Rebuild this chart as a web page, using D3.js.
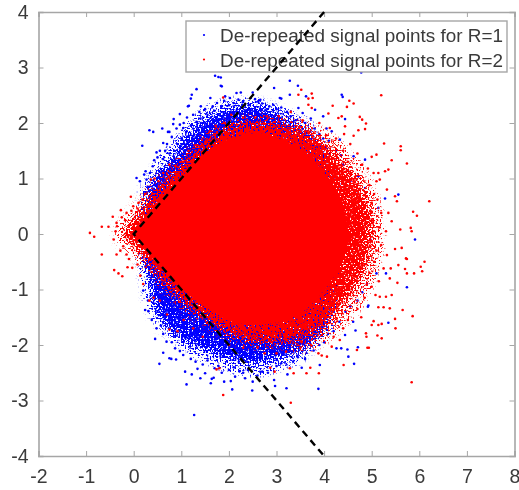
<!DOCTYPE html>
<html><head><meta charset="utf-8">
<script src="https://cdnjs.cloudflare.com/ajax/libs/d3/7.8.5/d3.min.js"></script>
<style>html,body{margin:0;padding:0;background:#fff}svg{display:block}</style></head>
<body><div id="chart"></div>
<script>
const xTicks=[-2,-1,0,1,2,3,4,5,6,7,8];
const yTicks=[-4,-3,-2,-1,0,1,2,3,4];
const legendLabels=["De-repeated signal points for R=1","De-repeated signal points for R=2"];
const refLineX=[4,0,4];
const refLineY=[4,0,-4];
// outlines of the areas where points merge into a solid mass or a sparse fringe
const redCore=[[-0.08,0],[0,0.07],[0.3,0.36],[0.6,0.68],[0.97,1.0],[1.2,1.2],[1.39,1.36],[1.7,1.58],[2.09,1.74],[2.65,1.82],[3,1.74],[3.35,1.6],[3.71,1.38],[4.06,1.04],[4.27,0.76],[4.42,0.45],[4.5,0.1],[4.5,-0.15],[4.38,-0.5],[4.2,-0.78],[4.0,-1.0],[3.7,-1.3],[3.3,-1.52],[2.65,-1.64],[2.09,-1.58],[1.39,-1.25],[0.69,-0.74],[0.35,-0.38],[0.05,-0.08]];
const redHalo=[[-0.3,0],[-0.18,0.17],[0,0.34],[0.25,0.58],[0.55,0.92],[0.9,1.2],[1.25,1.5],[1.6,1.78],[2.1,1.98],[2.7,2.05],[3.3,1.96],[3.8,1.76],[4.25,1.44],[4.68,1.0],[4.92,0.6],[5.02,0.1],[4.97,-0.35],[4.77,-0.8],[4.47,-1.22],[4.0,-1.64],[3.4,-1.9],[2.7,-1.98],[2.1,-1.85],[1.5,-1.55],[0.9,-1.15],[0.45,-0.72],[0.15,-0.42],[-0.1,-0.2]];
const redFringe=[[3.3,2.15],[4,2.0],[4.6,1.6],[5.05,1.1],[5.32,0.5],[5.38,-0.1],[5.25,-0.7],[4.95,-1.3],[4.5,-1.75],[3.9,-2.15],[3.2,-2.2],[3,0]];
const blueBand=[[0.22,0.45],[0.3,0.85],[0.5,1.1],[0.82,1.4],[1.17,1.82],[1.6,2.12],[2.09,2.27],[2.65,2.3],[3,2.18],[3.35,2.0],[3.85,1.68],[4.1,1.3],[4.2,0],[4.1,-1.6],[3.7,-2.02],[3.07,-2.25],[2.58,-2.33],[1.95,-2.24],[1.39,-2.04],[0.85,-1.8],[0.44,-1.42],[0.3,-0.92],[0.22,-0.5]];
const blueFringeTop=[[0.2,0.95],[0.42,1.42],[0.78,1.78],[1.1,2.12],[1.55,2.42],[2.1,2.55],[2.7,2.52],[3.3,2.32],[3.9,2.02],[3,0.5],[1,0.5]];
const blueFringeBottom=[[0.3,-1.15],[0.55,-1.75],[0.95,-2.15],[1.5,-2.42],[2,-2.58],[2.6,-2.66],[3.2,-2.52],[3.8,-2.22],[3,-0.5],[1,-0.5]];
const bluePoints=[[1.71,2.85],[1.78,2.83],[1.83,2.82],[1.83,2.67],[1.85,2.66],[1.32,2.61],[1.22,2.51],[1.2,2.44],[1.16,2.31],[1.14,2.3],[1.61,2.45],[1.41,2.3],[0.97,2.16],[0.84,2.07],[0.83,1.98],[0.33,1.87],[0.41,1.84],[0.6,1.9],[0.72,1.84],[0.75,1.84],[0.18,1.59],[0.06,1.01],[0.13,0.95],[0.27,0.98],[0.48,1.47],[0.43,1.33],[0.34,1.1],[0.25,1.13],[0.22,1.07],[1.92,2.48],[2.02,2.45],[2.16,2.54],[2.25,2.55],[2.5,2.55],[0.97,1.97],[1.04,1.91],[0.9,1.9],[0.8,1.75],[0.7,1.62],[0.62,1.64],[0.55,1.5],[0.66,1.5],[0.5,1.38],[0.4,1.22],[0.3,0.85],[0.28,0.75],[1.05,2.0],[1.12,2.1],[1.25,2.15],[1.32,2.02],[1.38,2.2],[1.5,2.25],[1.55,2.15],[1.66,2.3],[1.75,2.36],[1.85,2.3],[1.9,2.4],[2.0,2.32],[2.1,2.36],[2.2,2.42],[2.3,2.38],[2.42,2.33],[2.55,2.43],[2.62,2.38],[2.7,2.35],[0.92,1.62],[1.0,1.72],[1.1,1.84],[0.85,1.5],[0.75,1.45],[0.62,1.35],[1.2,1.95],[1.4,2.08],[1.7,2.22],
[2.95,2.63],[3.28,2.76],[3.45,2.67],[3.28,2.51],[3.07,2.45],[3.1,2.44],[2.66,2.42],[3.62,2.48],[2.93,2.33],[3.46,2.27],[3.81,2.24],[3.98,2.12],[4.37,2.51],[4.39,2.47],[4.78,2.91],[4.44,2.07],[4.16,1.85],[4.33,1.7],[4.62,1.4],[4.86,1.34],[4.72,1.04],[4.86,0.83],[5.28,0.64],[5.56,0.71],[5.14,0.47],[4.97,-0.1],[5.91,-0.1],[2.85,2.3],[3.0,2.25],[3.1,2.28],[3.22,2.2],[3.3,2.12],[3.4,2.05],[3.55,2.18],[3.6,2.0],[3.72,2.08],[3.8,1.9],[3.9,1.8],[3.98,1.72],[4.05,1.9],[4.1,1.68],[4.25,1.5],[4.35,1.42],[4.4,1.25],[4.5,1.15],[4.55,0.95],[4.65,0.75],
[1.27,-3.26],[0.54,-2.34],[0.62,-2.14],[0.45,-1.89],[0.75,-2.24],[0.79,-2.25],[0.89,-2.26],[1.08,-2.48],[1.11,-2.71],[1.22,-2.53],[1.34,-2.43],[1.4,-2.6],[1.5,-2.51],[1.62,-2.69],[1.64,-2.61],[1.68,-2.59],[1.9,-2.66],[2.04,-2.65],[2.07,-2.8],[2.13,-2.57],[2.49,-2.82],[2.5,-2.66],[2.34,-2.6],[2.23,-2.47],[0.24,-1.37],[0.2,-1.02],[0.31,-1.39],[0.48,-1.7],[0.57,-1.65],[0.69,-1.94],[0.87,-2.06],[0.97,-2.11],[1.04,-2.18],[0.8,-1.95],[0.62,-1.8],[0.38,-1.55],[0.3,-1.2],[1.2,-2.25],[1.3,-2.3],[1.45,-2.35],[1.55,-2.28],[1.7,-2.42],[1.78,-2.38],[1.85,-2.5],[2.0,-2.45],[2.1,-2.4],[2.3,-2.5],[2.4,-2.45],[2.6,-2.55],[2.7,-2.48],[2.82,-2.5],
[3.88,-2.79],[3.21,-2.78],[2.97,-2.74],[2.95,-2.63],[3.23,-2.53],[3.53,-2.41],[3.91,-2.36],[4.63,-2.34],[4.51,-2.21],[4.71,-2.04],[4.49,-2.08],[4.36,-2.06],[4.26,-2.06],[5.35,-1.6],[4.66,-1.74],[4.44,-1.82],[5.74,-0.96],[4.92,-1.31],[4.93,-1.29],[5.3,-0.71],[5.1,-0.71],[4.61,-1.58],[3.0,-2.38],[3.1,-2.33],[3.35,-2.3],[3.45,-2.22],[3.6,-2.25],[3.78,-2.1],[3.9,-2.0],[4.0,-1.95],[4.08,-1.8],[4.2,-1.75],[4.32,-1.58],[4.45,-1.4],[4.55,-1.3],[4.7,-1.2],[4.8,-1.05],[4.9,-0.9]];
const redPoints=[[-0.92,0.02],[-0.83,-0.05],[-0.67,0.13],[-0.53,0.13],[-0.44,0.31],[-0.27,0.43],[-0.06,0.67],[-0.15,0.38],[-0.01,0.5],[0.1,0.56],[-0.35,0.14],[-0.38,0.05],[-0.42,-0.1],[-0.36,0.2],[-0.25,0.3],[-0.18,0.25],[-0.05,0.42],[0.08,0.46],[0.18,0.62],[0.24,0.72],[0.36,0.98],[0.44,1.0],[0.52,0.95],[0.62,1.1],[0.75,1.25],[0.88,1.22],[1.02,1.3],[1.15,1.5],[1.3,1.6],[1.44,1.62],[1.6,1.85],[1.72,1.95],[1.9,2.0],[1.88,2.46],[2.55,2.1],[2.3,2.1],[2.05,2.15],
[-0.67,-0.37],[-0.41,-0.65],[-0.32,-0.71],[-0.24,-0.76],[-0.13,-0.6],[-0.03,-0.61],[-0.36,-0.37],[-0.15,-0.37],[-0.28,-0.3],[-0.22,-0.22],[-0.1,-0.45],[0.08,-0.55],[0.14,-0.75],[0.2,-0.9],[0.33,-1.2],[0.42,-1.15],[0.55,-1.2],[0.7,-1.45],[0.75,-1.72],[0.92,-1.75],[1.05,-1.55],[1.25,-1.7],[1.45,-1.85],[1.88,-2.9],[1.8,-2.42],[1.74,-2.44],[2.0,-2.0],[2.3,-2.05],[2.6,-2.05],[2.75,-2.15],
[5.84,-2.67],[3.3,-3.04],[5.86,-1.48],[5.65,-1.37],[5.49,-1.53],[5.5,-1.7],[5.21,-1.88],[5.12,-1.83],[4.91,-2.05],[4.94,-2.05],[4.69,-2.09],[4.41,-2.36],[3.89,-2.51],[3.71,-2.41],[3.63,-2.51],[3.36,-2.51],[3.28,-2.42],[2.87,-2.41],[2.96,-2.48],[4.06,-2.21],[3.95,-2.19],[3.88,-2.15],[4.16,-2.03],[4.33,-1.91],[4.88,-1.79],[4.89,-1.85],[5.04,-1.57],[5.14,-1.64],[5.21,-1.62],[5.0,-1.64],[4.78,-1.5],[5.38,-1.34],[5.25,-1.32],[5.14,-1.32],[5.42,-1.1],[5.3,-1.13],[5.17,-1.13],[5.08,-1.1],[5.54,-0.88],[5.38,-0.8],[5.25,-0.62],[5.4,-0.62],[5.56,-0.56],[5.7,-0.63],[5.89,-0.71],[5.74,-0.71],[5.74,-0.45],[5.72,-0.44],[6.11,-0.5],[6.03,-0.59],[6.06,-0.67],[5.63,-0.25],[5.49,-0.27],[5.32,-0.38],[5.1,-0.3],[5.2,-0.2],[5.05,-0.5],[4.95,-0.7],[5.0,-0.95],[4.85,-1.15],[4.7,-1.35],[4.5,-1.55],[4.4,-1.7],[4.2,-1.85],[3.72,-2.0],[3.5,-2.05],[3.2,-2.12],[3.0,-2.15],[5.15,-0.85],[4.85,-0.55],[5.05,0.05],[5.15,0.12],[5.3,0.05],[5.0,0.25],
[6.21,0.59],[5.2,2.5],[4.53,2.4],[4.62,2.35],[4.48,2.29],[4.18,2.31],[4.75,2.11],[4.8,2.06],[4.88,1.99],[4.37,2.12],[4.3,2.09],[4.44,1.94],[4.72,1.87],[4.86,1.89],[4.62,1.77],[5.26,1.63],[5.61,1.58],[5.61,1.51],[5.42,1.33],[5.74,1.27],[5.1,1.43],[5.0,1.39],[5.35,1.16],[5.28,1.13],[5.14,1.1],[5.04,1.1],[5.17,0.98],[5.1,0.95],[5.53,0.59],[5.49,0.68],[5.32,0.8],[5.87,0.4],[5.95,0.33],[5.82,0.11],[5.84,0.05],[5.6,0.08],[5.42,0.23],[5.2,0.38],[5.35,0.38],[5.0,0.56],[4.09,2.17],[3.46,2.51],[3.74,2.53],[3.76,2.45],[3.67,2.44],[3.67,2.33],[3.74,2.27],[4.12,1.91],[3.52,2.6],[4.55,1.62],[4.7,1.45],[4.8,1.25],[4.92,1.18],[4.95,0.88],[5.05,0.72],[4.98,0.4],[5.12,0.62],[4.42,1.8],[4.25,1.72],[4.05,1.78],[3.9,2.0],[3.55,2.05],[3.3,2.2],[3.05,2.12],[2.8,2.12],[3.6,1.85],[3.85,1.6],[4.4,1.5],[4.5,1.3],[4.7,0.9],[4.85,0.7]];
const ax={l:38.5,r:514.5,t:12,b:456};
const x=d3.scaleLinear().domain([-2,8]).range([ax.l,ax.r]);
const y=d3.scaleLinear().domain([-4,4]).range([ax.b,ax.t]);
const svg=d3.select("#chart").append("svg").attr("width",519).attr("height",490);
const defs=svg.append("defs");
defs.append("filter").attr("id","soft").attr("filterUnits","userSpaceOnUse").attr("x",0).attr("y",0).attr("width",519).attr("height",490).append("feGaussianBlur").attr("stdDeviation",0.4);
// stippled rendering of an outlined area: density fades out across its edge
function stipple(id,color,spread,seed,sparse){
  const f=defs.append("filter").attr("id",id).attr("filterUnits","userSpaceOnUse").attr("x",0).attr("y",0).attr("width",519).attr("height",490).attr("color-interpolation-filters","sRGB");
  f.append("feGaussianBlur").attr("in","SourceAlpha").attr("stdDeviation",spread).attr("result","ramp");
  f.append("feTurbulence").attr("type","fractalNoise").attr("baseFrequency",0.6).attr("numOctaves",1).attr("seed",seed).attr("result","tex");
  f.append("feColorMatrix").attr("in","tex").attr("type","matrix").attr("values","0 0 0 0 0  0 0 0 0 0  0 0 0 0 0  0 0 0 3.2 -1.1").attr("result","texA");
  f.append("feComposite").attr("in","ramp").attr("in2","texA").attr("operator","arithmetic").attr("k1",0).attr("k2",5).attr("k3",5).attr("k4",-5*(1+sparse)).attr("result","mask");
  f.append("feFlood").attr("flood-color",color).attr("result","ink");
  f.append("feComposite").attr("in","ink").attr("in2","mask").attr("operator","in");
}
stipple("stipBlue","#0000ff",5.5,4,0);
stipple("stipRed","#ff0000",6,11,0);
stipple("stipBlueOut","#0000ff",7,23,0.62);
stipple("stipRedOut","#ff0000",8,31,0.6);
const root=svg.append("g").attr("filter","url(#soft)");
const poly=d3.line().x(d=>x(d[0])).y(d=>y(d[1])).curve(d3.curveCatmullRomClosed);
[blueFringeTop,blueFringeBottom].forEach(o=>root.append("path").attr("d",poly(o)).attr("fill","#0000ff").attr("filter","url(#stipBlueOut)"));
root.append("path").attr("d",poly(blueBand)).attr("fill","#0000ff").attr("filter","url(#stipBlue)");
root.append("g").selectAll("circle").data(bluePoints).join("circle").attr("cx",d=>x(d[0])).attr("cy",d=>y(d[1])).attr("r",1.3).attr("fill","#0000ff");
root.append("path").attr("d",poly(redFringe)).attr("fill","#ff0000").attr("filter","url(#stipRedOut)");
root.append("path").attr("d",poly(redHalo)).attr("fill","#ff0000").attr("filter","url(#stipRed)");
root.append("g").selectAll("circle").data(redPoints).join("circle").attr("cx",d=>x(d[0])).attr("cy",d=>y(d[1])).attr("r",1.3).attr("fill","#ff0000");
root.append("path").attr("d",poly(redCore)).attr("fill","#ff0000");
// axes
const ink="#3a3a3a", frame="#a6a6a6", fnt="'Liberation Sans',Arial,sans-serif";
const gx=root.append("g").attr("transform",`translate(0,${ax.b})`).call(d3.axisBottom(x).tickValues(xTicks).tickSize(-5).tickPadding(13).tickFormat(d=>String(d)));
const gy=root.append("g").attr("transform",`translate(${ax.l},0)`).call(d3.axisLeft(y).tickValues(yTicks).tickSize(-5).tickPadding(10).tickFormat(d=>String(d)));
const gt=root.append("g").attr("transform",`translate(0,${ax.t})`).call(d3.axisTop(x).tickValues(xTicks).tickSize(-5).tickFormat(""));
const gr=root.append("g").attr("transform",`translate(${ax.r},0)`).call(d3.axisRight(y).tickValues(yTicks).tickSize(-5).tickFormat(""));
[gx,gy,gt,gr].forEach(g=>{g.selectAll("path").attr("stroke",frame).attr("stroke-width",1.6);g.selectAll("line").attr("stroke",frame).attr("stroke-width",1);g.selectAll("text").attr("fill",ink).attr("font-size",19.5).attr("font-family",fnt);});
gx.selectAll("text").attr("dy","0.71em");
// legend
const lg=root.append("g");
lg.append("rect").attr("x",186).attr("y",21).attr("width",321).attr("height",51).attr("fill","#fff").attr("stroke",frame).attr("stroke-width",1.4);
["#0000ff","#ff0000"].forEach((c,i)=>{
 lg.append("circle").attr("cx",204).attr("cy",35+i*24.5).attr("r",1.1).attr("fill",c);
 lg.append("text").attr("x",220).attr("y",42+i*25).attr("fill",ink).attr("font-size",18.9).attr("font-family",fnt).text(legendLabels[i]);
});
// dashed boundary over everything
root.append("path").attr("d",d3.line().x((d,i)=>x(refLineX[i])).y((d,i)=>y(refLineY[i]))(refLineX)).attr("fill","none").attr("stroke","#000").attr("stroke-width",2.4).attr("stroke-dasharray","7 5");
</script></body></html>
